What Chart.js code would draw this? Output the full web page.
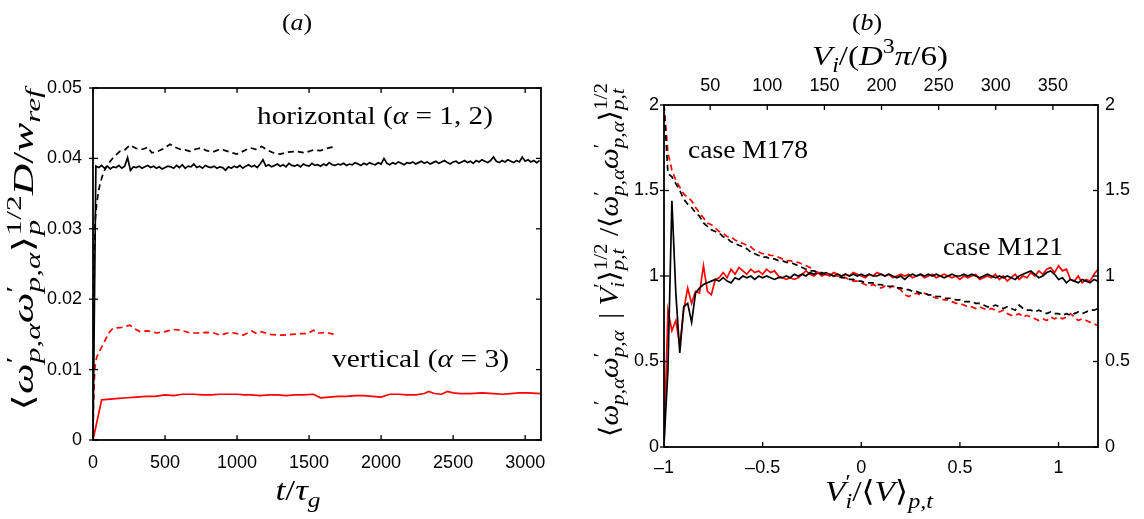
<!DOCTYPE html>
<html>
<head>
<meta charset="utf-8">
<script src="https://cdn.jsdelivr.net/npm/chart.js@4.4.1/dist/chart.umd.min.js"></script>
<style>
  html, body { margin: 0; padding: 0; background: #fff; }
  #wrap { position: relative; width: 1144px; height: 519px; }
  canvas { position: absolute; top: 0; }
</style>
</head>
<body>
<div id="wrap">
  <canvas id="panelA" width="572" height="519" style="left:0"></canvas>
  <canvas id="panelB" width="572" height="519" style="left:572px"></canvas>
</div>
<script>
// ---- panel (a): rms angular velocity vs time ----
// horizontal, long run (solid black), sampled every 20 tau_g
const hStep = 20;
const hLong = [0, 0.0389, 0.0387, 0.0390, 0.0386, 0.0389, 0.0385, 0.0388, 0.0387, 0.0390,
  0.0386, 0.0389, 0.0401, 0.0383, 0.0388, 0.0387, 0.0389, 0.0386, 0.0388, 0.0390,
  0.0387, 0.0389, 0.0386, 0.0388, 0.0385, 0.0387, 0.0389, 0.0388, 0.0386, 0.0390,
  0.0387, 0.0391, 0.0386, 0.0389, 0.0388, 0.0392, 0.0387, 0.0389, 0.0386, 0.0390,
  0.0388, 0.0387, 0.0389, 0.0386, 0.0388, 0.0387, 0.0383, 0.0388, 0.0386, 0.0389,
  0.0387, 0.0390, 0.0386, 0.0389, 0.0391, 0.0388, 0.0390, 0.0387, 0.0392, 0.0398,
  0.0389, 0.0391, 0.0388, 0.0390, 0.0392, 0.0389, 0.0391, 0.0388, 0.0393, 0.0390,
  0.0389, 0.0391, 0.0388, 0.0392, 0.0390, 0.0389, 0.0393, 0.0390, 0.0391, 0.0389,
  0.0392, 0.0390, 0.0394, 0.0391, 0.0390, 0.0392, 0.0391, 0.0393, 0.0390, 0.0392,
  0.0391, 0.0394, 0.0392, 0.0390, 0.0393, 0.0391, 0.0394, 0.0392, 0.0391, 0.0394,
  0.0392, 0.0400, 0.0393, 0.0391, 0.0394, 0.0392, 0.0395, 0.0393, 0.0391, 0.0394,
  0.0393, 0.0395, 0.0392, 0.0394, 0.0396, 0.0393, 0.0395, 0.0392, 0.0394, 0.0396,
  0.0393, 0.0395, 0.0397, 0.0394, 0.0392, 0.0395, 0.0396, 0.0393, 0.0395, 0.0397,
  0.0394, 0.0396, 0.0393, 0.0397, 0.0395, 0.0398, 0.0396, 0.0394, 0.0397, 0.0402,
  0.0396, 0.0394, 0.0397, 0.0395, 0.0398, 0.0396, 0.0394, 0.0397, 0.0395, 0.0402,
  0.0396, 0.0398, 0.0395, 0.0397, 0.0394, 0.0397];

// horizontal, short run (dashed black)
const hShortT = [0, 3, 6, 10, 15, 25, 40, 50, 65, 80, 100, 120, 140, 160, 187, 220, 257, 300,
  347, 380, 408, 450, 490, 535, 570, 604, 640, 673, 710, 750, 789, 830, 870, 903, 950, 998,
  1040, 1090, 1130, 1171, 1210, 1250, 1299, 1350, 1414, 1470, 1530, 1580, 1620, 1658, 1670];
const hShort = [0, 0.012, 0.022, 0.028, 0.031, 0.0335, 0.0355, 0.0365, 0.0375, 0.0383, 0.0390,
  0.0396, 0.0401, 0.0405, 0.0410, 0.0412, 0.0419, 0.0414, 0.0413, 0.0416, 0.0408, 0.0410,
  0.0414, 0.0420, 0.0416, 0.0413, 0.0412, 0.0410, 0.0413, 0.0415, 0.0411, 0.0409, 0.0412,
  0.0412, 0.0409, 0.0406, 0.0410, 0.0415, 0.0413, 0.0417, 0.0412, 0.0408, 0.0406, 0.0409,
  0.0410, 0.0408, 0.0412, 0.0411, 0.0414, 0.0416, 0.0415];

// vertical, short run (dashed red)
const vShortT = [0, 3, 8, 14, 26, 50, 80, 110, 140, 200, 257, 290, 326, 380, 442, 500, 558,
  610, 674, 730, 789, 840, 882, 920, 950, 1000, 1044, 1075, 1102, 1130, 1160, 1200, 1230,
  1280, 1322, 1380, 1438, 1490, 1530, 1560, 1577, 1620, 1670];
const vShort = [0, 0.005, 0.0081, 0.0105, 0.0118, 0.0128, 0.0140, 0.0152, 0.0159, 0.0160,
  0.0163, 0.0158, 0.0154, 0.0155, 0.0152, 0.0154, 0.0157, 0.0156, 0.0152, 0.0152, 0.0153,
  0.0152, 0.0149, 0.0151, 0.0153, 0.0151, 0.0149, 0.0152, 0.0155, 0.0152, 0.0154, 0.0152,
  0.0150, 0.0149, 0.0149, 0.0150, 0.0151, 0.0151, 0.0156, 0.0152, 0.0152, 0.0153, 0.0150];

// vertical, long run (solid red)
const vLongT = [0, 60, 120, 180, 240, 300, 370, 430, 500, 560, 620, 700, 760, 820, 880, 940,
  1000, 1050, 1100, 1160, 1220, 1280, 1340, 1400, 1460, 1530, 1580, 1640, 1700, 1760, 1820,
  1880, 1940, 2000, 2060, 2120, 2180, 2240, 2300, 2330, 2370, 2420, 2460, 2500, 2550, 2620,
  2700, 2780, 2840, 2900, 2960, 3020, 3110];
const vLong = [0, 0.0057, 0.0058, 0.0059, 0.0060, 0.0061, 0.0062, 0.0062, 0.0064, 0.0063,
  0.0065, 0.0065, 0.0064, 0.0064, 0.0065, 0.0065, 0.0065, 0.0064, 0.0064, 0.0063, 0.0064,
  0.0064, 0.0063, 0.0064, 0.0064, 0.0065, 0.0060, 0.0061, 0.0062, 0.0062, 0.0063, 0.0063,
  0.0062, 0.0061, 0.0065, 0.0065, 0.0064, 0.0064, 0.0066, 0.0069, 0.0066, 0.0065, 0.0069,
  0.0067, 0.0066, 0.0066, 0.0067, 0.0066, 0.0065, 0.0066, 0.0067, 0.0067, 0.0066];

// ---- panel (b): conditional average vs particle volume fluctuation ----
// sampled on V'/<V> = -1, -0.98, ... 1.2
const bStart = -1, bStep = 0.02;
const m121k = [0.02, 0.45, 1.44, 0.90, 0.55, 0.82, 0.84, 0.73, 0.90, 0.93,
  0.95, 0.96, 0.97, 0.98, 0.97, 0.99, 0.97, 0.96, 0.99, 0.98,
  1.00, 0.99, 1.00, 0.98, 1.00, 0.99, 1.00, 0.99, 0.98, 0.99,
  0.99, 1.00, 0.99, 1.01, 1.00, 1.01, 1.00, 1.02, 1.01, 1.02,
  1.01, 1.02, 1.01, 1.00, 1.01, 1.00, 1.01, 1.00, 1.01, 1.00,
  1.01, 1.00, 1.01, 1.00, 1.00, 1.01, 1.00, 1.01, 1.00, 0.99,
  1.00, 0.98, 1.00, 1.01, 1.00, 1.01, 1.00, 1.01, 1.00, 1.01,
  1.00, 0.99, 1.00, 1.01, 1.00, 1.00, 1.01, 1.00, 1.01, 1.00,
  0.99, 1.00, 1.01, 1.00, 0.99, 1.00, 0.99, 1.00, 0.99, 0.98,
  1.00, 1.01, 1.02, 1.03, 1.01, 0.99, 1.00, 1.02, 1.03, 1.01,
  0.98, 0.99, 0.96, 0.98, 0.97, 0.96, 0.98, 0.97, 0.96, 0.98, 0.97];
const m121r = [0.00, 0.80, 0.68, 0.74, 0.59, 0.80, 0.93, 0.84, 0.91, 0.90,
  1.06, 0.91, 0.89, 0.98, 0.99, 1.02, 0.99, 1.04, 1.01, 1.05,
  1.03, 1.01, 1.04, 1.02, 1.03, 1.01, 1.04, 1.02, 1.03, 1.00,
  0.99, 0.98, 0.99, 0.98, 0.99, 1.01, 1.03, 1.01, 1.00, 1.02,
  1.00, 1.01, 1.00, 1.02, 1.01, 1.00, 1.01, 1.00, 1.02, 1.01,
  1.00, 0.99, 1.01, 1.00, 1.02, 1.01, 1.00, 1.01, 0.99, 1.00,
  1.01, 1.00, 1.01, 0.99, 1.00, 1.01, 0.99, 1.00, 1.01, 0.99,
  1.00, 1.01, 1.00, 0.99, 1.00, 0.98, 1.00, 0.99, 1.00, 1.01,
  0.98, 0.99, 1.00, 0.99, 1.01, 0.98, 1.00, 0.97, 0.99, 1.01,
  0.98, 1.00, 0.99, 1.02, 1.00, 1.03, 1.01, 1.04, 1.05, 1.02,
  1.06, 1.03, 1.04, 0.98, 0.97, 1.00, 0.96, 0.98, 0.97, 1.01, 1.04];
const m178k = [2.00, 1.60, 1.58, 1.54, 1.50, 1.45, 1.42, 1.40, 1.37, 1.35,
  1.31, 1.29, 1.27, 1.26, 1.25, 1.23, 1.22, 1.20, 1.19, 1.18,
  1.17, 1.16, 1.14, 1.13, 1.12, 1.11, 1.11, 1.10, 1.10, 1.09,
  1.09, 1.08, 1.08, 1.07, 1.06, 1.05, 1.04, 1.03, 1.03, 1.02,
  1.02, 1.01, 1.01, 1.00, 1.00, 0.99, 0.99, 0.98, 0.98, 0.97,
  0.97, 0.96, 0.96, 0.96, 0.95, 0.95, 0.94, 0.94, 0.94, 0.93,
  0.93, 0.92, 0.92, 0.91, 0.91, 0.90, 0.90, 0.89, 0.89, 0.88,
  0.88, 0.87, 0.87, 0.87, 0.86, 0.86, 0.85, 0.85, 0.85, 0.84,
  0.84, 0.83, 0.82, 0.82, 0.83, 0.82, 0.81, 0.82, 0.81, 0.80,
  0.83, 0.81, 0.80, 0.80, 0.79, 0.80, 0.79, 0.78, 0.79, 0.78,
  0.78, 0.77, 0.78, 0.77, 0.78, 0.79, 0.78, 0.79, 0.80, 0.80, 0.81];
const m178r = [2.00, 1.72, 1.62, 1.56, 1.52, 1.48, 1.46, 1.44, 1.40, 1.37,
  1.34, 1.31, 1.30, 1.28, 1.26, 1.25, 1.23, 1.23, 1.21, 1.20,
  1.19, 1.18, 1.17, 1.15, 1.14, 1.13, 1.13, 1.12, 1.12, 1.11,
  1.10, 1.09, 1.09, 1.08, 1.08, 1.07, 1.06, 1.05, 1.03, 1.02,
  1.02, 1.01, 1.01, 1.00, 1.00, 0.99, 0.99, 0.98, 0.97, 0.97,
  0.96, 0.95, 0.94, 0.95, 0.94, 0.93, 0.94, 0.93, 0.94, 0.93,
  0.92, 0.89, 0.88, 0.89, 0.90, 0.89, 0.90, 0.89, 0.88, 0.87,
  0.87, 0.86, 0.86, 0.85, 0.84, 0.84, 0.83, 0.82, 0.82, 0.81,
  0.82, 0.81, 0.80, 0.81, 0.80, 0.79, 0.80, 0.78, 0.77, 0.77,
  0.78, 0.76, 0.77, 0.76, 0.75, 0.74, 0.75, 0.74, 0.76, 0.75,
  0.76, 0.75, 0.76, 0.78, 0.76, 0.74, 0.75, 0.74, 0.73, 0.72, 0.71];

// axis ranges and tick values
const aRangeX = [0, 3110];
const aRangeY = [0, 0.05];
const aTicksX = [0, 500, 1000, 1500, 2000, 2500, 3000];
const aTicksY = [0, 0.01, 0.02, 0.03, 0.04, 0.05];
const aTickLabelsY = ['0', '0.01', '0.02', '0.03', '0.04', '0.05'];
const bRangeX = [-1, 1.2];
const bRangeY = [0, 2];
const bRangeTop = [9.6, 389.5];
const bTicksX = [-1, -0.5, 0, 0.5, 1];
const bTickLabelsX = ['\u20131', '\u20130.5', '0', '0.5', '1'];
const bTicksY = [0, 0.5, 1, 1.5, 2];
const bTicksTop = [50, 100, 150, 200, 250, 300, 350];

const RED = '#ff0000';
const SANS = '"Liberation Sans", Arial, sans-serif';
const SERIF = '"Liberation Serif", "DejaVu Serif", serif';

function pairs(xs, ys) {
  return ys.map((y, i) => ({ x: xs[i], y: y }));
}
function stepPairs(x0, dx, ys) {
  return ys.map((y, i) => ({ x: +(x0 + i * dx).toFixed(4), y: y }));
}
function setTicks(values) {
  return s => { s.ticks = values.map(v => ({ value: v })); };
}
function labelFrom(values, names) {
  return v => {
    const k = values.findIndex(u => Math.abs(u - v) < 1e-9);
    return k < 0 ? '' : names[k];
  };
}

// little rich-text writer for the math labels
function richLayout(ctx, parts, size) {
  let x = 0, prevX = 0, prevW = 0;
  const items = [];
  parts.forEach(p => {
    const fs = p.k ? size * 0.72 : size;
    const font = (p.i ? 'italic ' : '') + fs + 'px ' + SERIF;
    ctx.font = font;
    const w = ctx.measureText(p.t).width;
    const x0 = p.o ? prevX : x;
    const dy = p.k === 'sup' ? -0.42 * size : p.k === 'sub' ? 0.24 * size : 0;
    items.push({ t: p.t, font: font, x: x0, dy: dy });
    if (p.o) {
      x = prevX + Math.max(prevW, w);
    } else {
      prevX = x0; prevW = w; x = x0 + w;
    }
    if (p.g) x += p.g * size;
  });
  return { items: items, width: x };
}
function drawRich(ctx, it) {
  ctx.save();
  ctx.translate(it.x, it.y);
  if (it.rot) ctx.rotate(it.rot);
  const L = richLayout(ctx, it.parts, it.size);
  const sx = it.w ? it.w / L.width : 1.08;
  ctx.scale(sx, 1);
  const off = it.align === 'center' ? -L.width / 2 : (it.align === 'right' ? -L.width : 0);
  ctx.fillStyle = '#000';
  ctx.textAlign = 'left';
  ctx.textBaseline = 'alphabetic';
  L.items.forEach(p => {
    ctx.font = p.font;
    ctx.fillText(p.t, off + p.x, p.dy);
  });
  ctx.restore();
}

const R = t => ({ t: t });
const I = t => ({ t: t, i: 1 });
const omega = [I('ω'), { t: '′', k: 'sup' }, { t: 'p,α', i: 1, k: 'sub', o: 1 }];

// frame + inward ticks
const frameTicks = {
  id: 'frameTicks',
  afterDatasetsDraw(chart, args, opts) {
    const ctx = chart.ctx, a = chart.chartArea;
    ctx.save();
    ctx.strokeStyle = '#000';
    ctx.lineWidth = 1.8;
    ctx.strokeRect(a.left, a.top, a.right - a.left, a.bottom - a.top);
    ctx.lineWidth = 1.3;
    const len = 5;
    opts.sides.forEach(([id, side]) => {
      const s = chart.scales[id];
      s.ticks.forEach(t => {
        const p = s.getPixelForValue(t.value);
        ctx.beginPath();
        if (side === 'bottom') { ctx.moveTo(p, a.bottom); ctx.lineTo(p, a.bottom - len); }
        if (side === 'top') { ctx.moveTo(p, a.top); ctx.lineTo(p, a.top + len); }
        if (side === 'left') { ctx.moveTo(a.left - 4, p); ctx.lineTo(a.left + len, p); }
        if (side === 'right') { ctx.moveTo(a.right, p); ctx.lineTo(a.right - len, p); }
        ctx.stroke();
      });
    });
    ctx.restore();
  }
};

const labels = {
  id: 'labels',
  afterDraw(chart, args, opts) {
    opts.items.forEach(it => drawRich(chart.ctx, it));
  }
};

function lineSet(data, color, dashed) {
  return {
    data: data,
    borderColor: color,
    borderWidth: 1.7,
    borderDash: dashed ? [6, 4] : [],
    pointRadius: 0,
    tension: 0,
    fill: false
  };
}

function axis(pos, range, ticks, names, padding, size) {
  return {
    type: 'linear', position: pos,
    min: range[0], max: range[1],
    grid: { display: false, drawTicks: false }, border: { display: false },
    afterBuildTicks: setTicks(ticks),
    ticks: { autoSkip: false, maxRotation: 0, padding: padding, color: '#000',
      font: { family: SANS, size: 18 },
      callback: names ? labelFrom(ticks, names) : (v => String(v)) },
    afterFit: s => { if (pos === 'left' || pos === 'right') s.width = size; else s.height = size; }
  };
}

// ---------- panel (a) ----------
new Chart(document.getElementById('panelA').getContext('2d'), {
  type: 'line',
  data: {
    datasets: [
      lineSet(pairs(hShortT, hShort), '#000', true),
      lineSet(stepPairs(0, hStep, hLong), '#000', false),
      lineSet(pairs(vShortT, vShort), RED, true),
      lineSet(pairs(vLongT, vLong), RED, false)
    ]
  },
  options: {
    responsive: false,
    animation: false,
    events: [],
    layout: { padding: { left: 0, right: 31, top: 88, bottom: 0 } },
    plugins: {
      legend: { display: false },
      tooltip: { enabled: false },
      frameTicks: { sides: [['x', 'bottom'], ['x', 'top'], ['y', 'left'], ['y', 'right']] },
      labels: {
        items: [
          { parts: [R('('), I('a'), R(')')], x: 297, y: 30, size: 24, align: 'center' },
          { parts: [R('horizontal ('), I('α'), R(' = 1, 2)')], x: 257, y: 124, size: 26, align: 'left', w: 236 },
          { parts: [R('vertical ('), I('α'), R(' = 3)')], x: 332, y: 367, size: 26, align: 'left', w: 177 },
          { parts: [I('t'), R('/'), I('τ'), { t: 'g', i: 1, k: 'sub' }], x: 298, y: 500, size: 29,
            align: 'center', w: 45 },
          { parts: [R('⟨')].concat(omega, omega, [R('⟩'), { t: '1/2', k: 'sup' }, { t: 'p', i: 1, k: 'sub', o: 1 },
              I('D'), R('/'), I('w'), { t: 'ref', i: 1, k: 'sub' }]),
            x: 33, y: 250, size: 29, align: 'center', rot: -Math.PI / 2, w: 322 }
        ]
      }
    },
    scales: {
      x: axis('bottom', aRangeX, aTicksX, null, 12, 79),
      y: axis('left', aRangeY, aTicksY, aTickLabelsY, 11, 93)
    }
  },
  plugins: [frameTicks, labels]
});

// ---------- panel (b) ----------
new Chart(document.getElementById('panelB').getContext('2d'), {
  type: 'line',
  data: {
    datasets: [
      lineSet(stepPairs(bStart, bStep, m178k), '#000', true),
      lineSet(stepPairs(bStart, bStep, m178r), RED, true),
      lineSet(stepPairs(bStart, bStep, m121k), '#000', false),
      lineSet(stepPairs(bStart, bStep, m121r), RED, false)
    ]
  },
  options: {
    responsive: false,
    animation: false,
    events: [],
    layout: { padding: 0 },
    plugins: {
      legend: { display: false },
      tooltip: { enabled: false },
      frameTicks: { sides: [['x', 'bottom'], ['x2', 'top'], ['y', 'left'], ['y2', 'right']] },
      labels: {
        items: [
          { parts: [R('('), I('b'), R(')')], x: 295, y: 30, size: 24, align: 'center' },
          { parts: [I('V'), { t: 'i', i: 1, k: 'sub' }, R('/('), I('D'), { t: '3', k: 'sup' }, I('π'), R('/6)')],
            x: 308, y: 65, size: 28, align: 'center', w: 136 },
          { parts: [R('case M178')], x: 116, y: 158, size: 26, align: 'left', w: 120 },
          { parts: [R('case M121')], x: 371, y: 255, size: 26, align: 'left', w: 120 },
          { parts: [I('V'), { t: '′', k: 'sup' }, { t: 'i', i: 1, k: 'sub', o: 1 }, R('/⟨'), I('V'), R('⟩'),
              { t: 'p,t', i: 1, k: 'sub' }], x: 307, y: 501, size: 29, align: 'center', w: 108 },
          { parts: [R('⟨')].concat(omega, omega, [{ t: ' ', g: 0.15 }, R('| '), I('V'), { t: '′', k: 'sup' },
              { t: 'i', i: 1, k: 'sub', o: 1 }, R('⟩'), { t: '1/2', k: 'sup' }, { t: 'p,t', i: 1, k: 'sub', o: 1 },
              R(' /⟨')], omega, omega, [R('⟩'), { t: '1/2', k: 'sup' }, { t: 'p,t', i: 1, k: 'sub', o: 1 }]),
            x: 46, y: 260, size: 27, align: 'center', rot: -Math.PI / 2, w: 354 }
        ]
      }
    },
    scales: {
      x: axis('bottom', bRangeX, bTicksX, bTickLabelsX, 10, 72),
      x2: axis('top', bRangeTop, bTicksTop, null, 8, 105),
      y: axis('left', bRangeY, bTicksY, null, 5, 92),
      y2: axis('right', bRangeY, bTicksY, null, 7, 46)
    }
  },
  plugins: [frameTicks, labels]
});
</script>
</body>
</html>
